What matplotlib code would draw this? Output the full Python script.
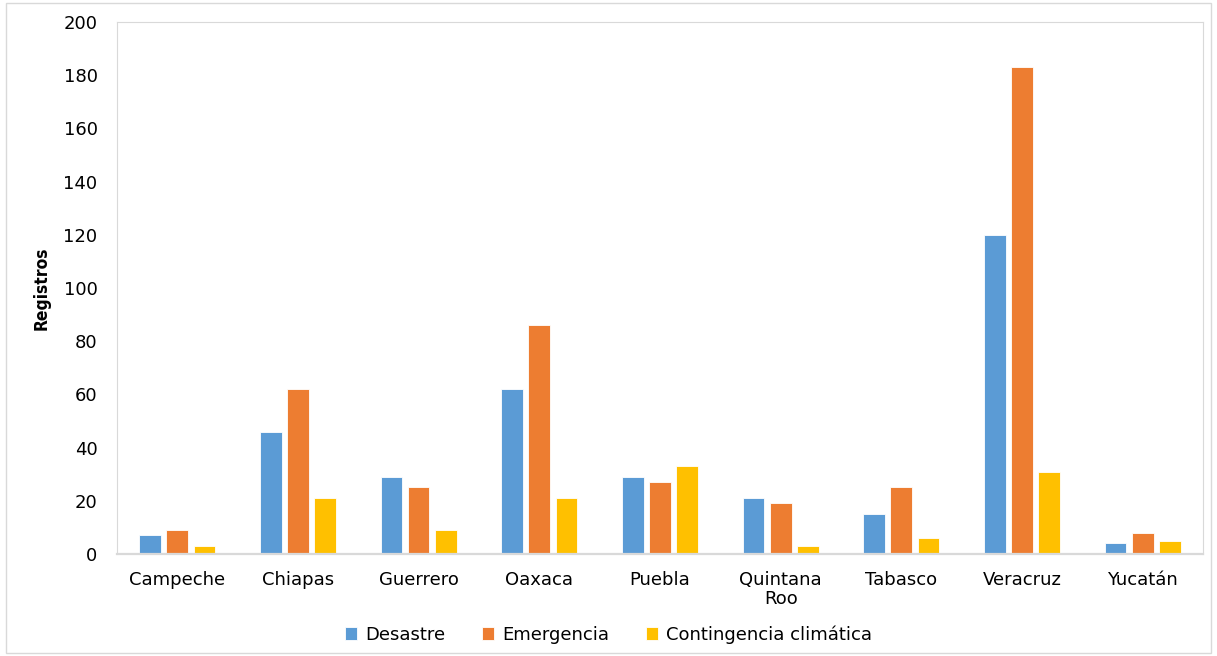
import numpy as np
import matplotlib.pyplot as plt
from matplotlib.patches import Rectangle

# Registros por estado y tipo de declaratoria
estados = ['Campeche', 'Chiapas', 'Guerrero', 'Oaxaca', 'Puebla',
           'Quintana\nRoo', 'Tabasco', 'Veracruz', 'Yucatán']
desastre = [7, 46, 29, 62, 29, 21, 15, 120, 4]
emergencia = [9, 62, 25, 86, 27, 19, 25, 183, 8]
contingencia = [3, 21, 9, 21, 33, 3, 6, 31, 5]

series = [('Desastre', desastre, '#5B9BD5'),
          ('Emergencia', emergencia, '#ED7D31'),
          ('Contingencia climática', contingencia, '#FFC000')]

plt.rcParams['font.family'] = ['DejaVu Sans']

fig = plt.figure(figsize=(12.17, 6.56), dpi=100)
ax = fig.add_axes([0.0961, 0.1555, 0.8924, 0.811])

x = np.arange(len(estados))
width = 0.18
step = 0.225
for i, (name, vals, color) in enumerate(series):
    ax.bar(x + (i - 1) * step, vals, width, color=color, label=name,
           edgecolor='white', linewidth=0.6)

ax.set_xlim(-0.5, len(estados) - 0.5)
ax.set_ylim(0, 200)
ax.set_yticks(range(0, 201, 20))
ax.set_xticks(x)
ax.set_xticklabels(estados, fontsize=13, linespacing=1.12)
ax.tick_params(axis='y', labelsize=13, length=0, pad=14)
ax.tick_params(axis='x', length=0, pad=12)

for side in ['top', 'right', 'left']:
    ax.spines[side].set_color('#D9D9D9')
    ax.spines[side].set_linewidth(0.8)
ax.spines['bottom'].set_color('#D9D9D9')
ax.spines['bottom'].set_linewidth(1.6)

ax.set_ylabel('Registros', fontsize=12.5, fontweight='bold',
              fontstretch='condensed')
ax.yaxis.set_label_coords(-0.061, 0.5)

fig.legend(loc='center', bbox_to_anchor=(0.5, 0.033), ncol=3, frameon=False,
           fontsize=13, handlelength=0.7, handleheight=0.7,
           handletextpad=0.45, columnspacing=2.0)

fig.patches.append(Rectangle((0.005, 0.005), 0.99, 0.99, transform=fig.transFigure,
                             fill=False, edgecolor='#D9D9D9', linewidth=1))

fig.savefig('out.png', dpi=100)
